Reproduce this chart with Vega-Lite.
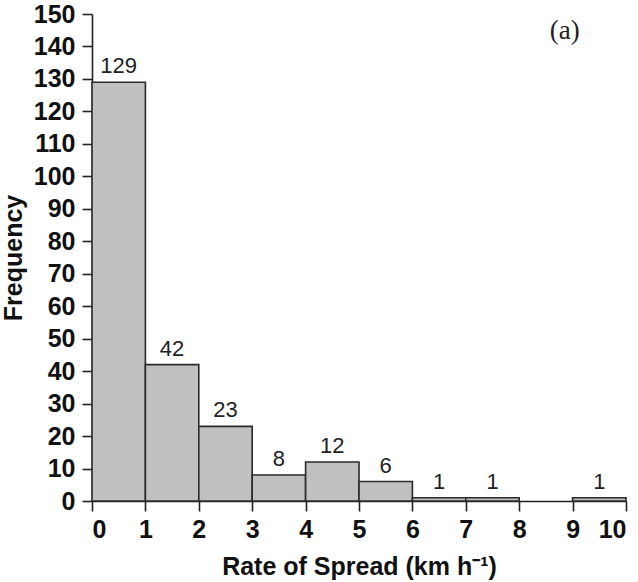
{
  "$schema": "https://vega.github.io/schema/vega-lite/v6.json",
  "width": 534,
  "height": 487,
  "autosize": {"type": "none"},
  "padding": {"left": 92, "top": 14, "right": 12, "bottom": 81},
  "background": "white",
  "config": {"view": {"stroke": null}, "font": "Arial"},
  "title": {"text": "(a)", "anchor": "end", "dx": -47, "dy": 47, "font": "Times New Roman", "fontSize": 27, "fontWeight": "normal", "color": "#222"},
  "data": {"values": [
    {"start": 0, "end": 1, "count": 129},
    {"start": 1, "end": 2, "count": 42},
    {"start": 2, "end": 3, "count": 23},
    {"start": 3, "end": 4, "count": 8},
    {"start": 4, "end": 5, "count": 12},
    {"start": 5, "end": 6, "count": 6},
    {"start": 6, "end": 7, "count": 1},
    {"start": 7, "end": 8, "count": 1},
    {"start": 9, "end": 10, "count": 1}
  ]},
  "encoding": {
    "x": {"field": "start", "type": "quantitative",
      "scale": {"domain": [0, 10], "nice": false},
      "axis": {"title": "Rate of Spread (km h\u207b\u00b9)", "values": [0,1,2,3,4,5,6,7,8,9,10],
        "grid": false, "domainColor": "#222", "domainWidth": 1.6, "tickColor": "#222", "tickWidth": 1.6, "tickSize": 10, "labelOverlap": false,
        "labelFont": "Arial", "labelFontSize": 25, "labelFontWeight": "bold", "labelColor": "#111", "labelPadding": 6,
        "titleFont": "Arial", "titleFontSize": 25, "titleFontWeight": "bold", "titleColor": "#111", "titlePadding": 12}},
    "y": {"field": "count", "type": "quantitative",
      "scale": {"domain": [0, 150], "nice": false},
      "axis": {"title": "Frequency", "values": [0,10,20,30,40,50,60,70,80,90,100,110,120,130,140,150],
        "grid": false, "domainColor": "#222", "domainWidth": 1.6, "tickColor": "#222", "tickWidth": 1.6, "tickSize": 10, "labelOverlap": false,
        "labelFont": "Arial", "labelFontSize": 25, "labelFontWeight": "bold", "labelColor": "#111", "labelPadding": 7,
        "titleFont": "Arial", "titleFontSize": 25, "titleFontWeight": "bold", "titleColor": "#111", "titlePadding": 7}}
  },
  "layer": [
    {
      "mark": {"type": "bar", "fill": "#c0c0c0", "stroke": "#2a2a2a", "strokeWidth": 1.6},
      "encoding": {
        "x2": {"field": "end"},
        "y2": {"datum": 0}
      }
    },
    {
      "mark": {"type": "text", "align": "center", "baseline": "bottom", "dx": 26.7, "dy": -4, "fontSize": 22, "color": "#222", "font": "Arial"},
      "encoding": {
        "text": {"field": "count", "type": "quantitative"}
      }
    }
  ]
}
